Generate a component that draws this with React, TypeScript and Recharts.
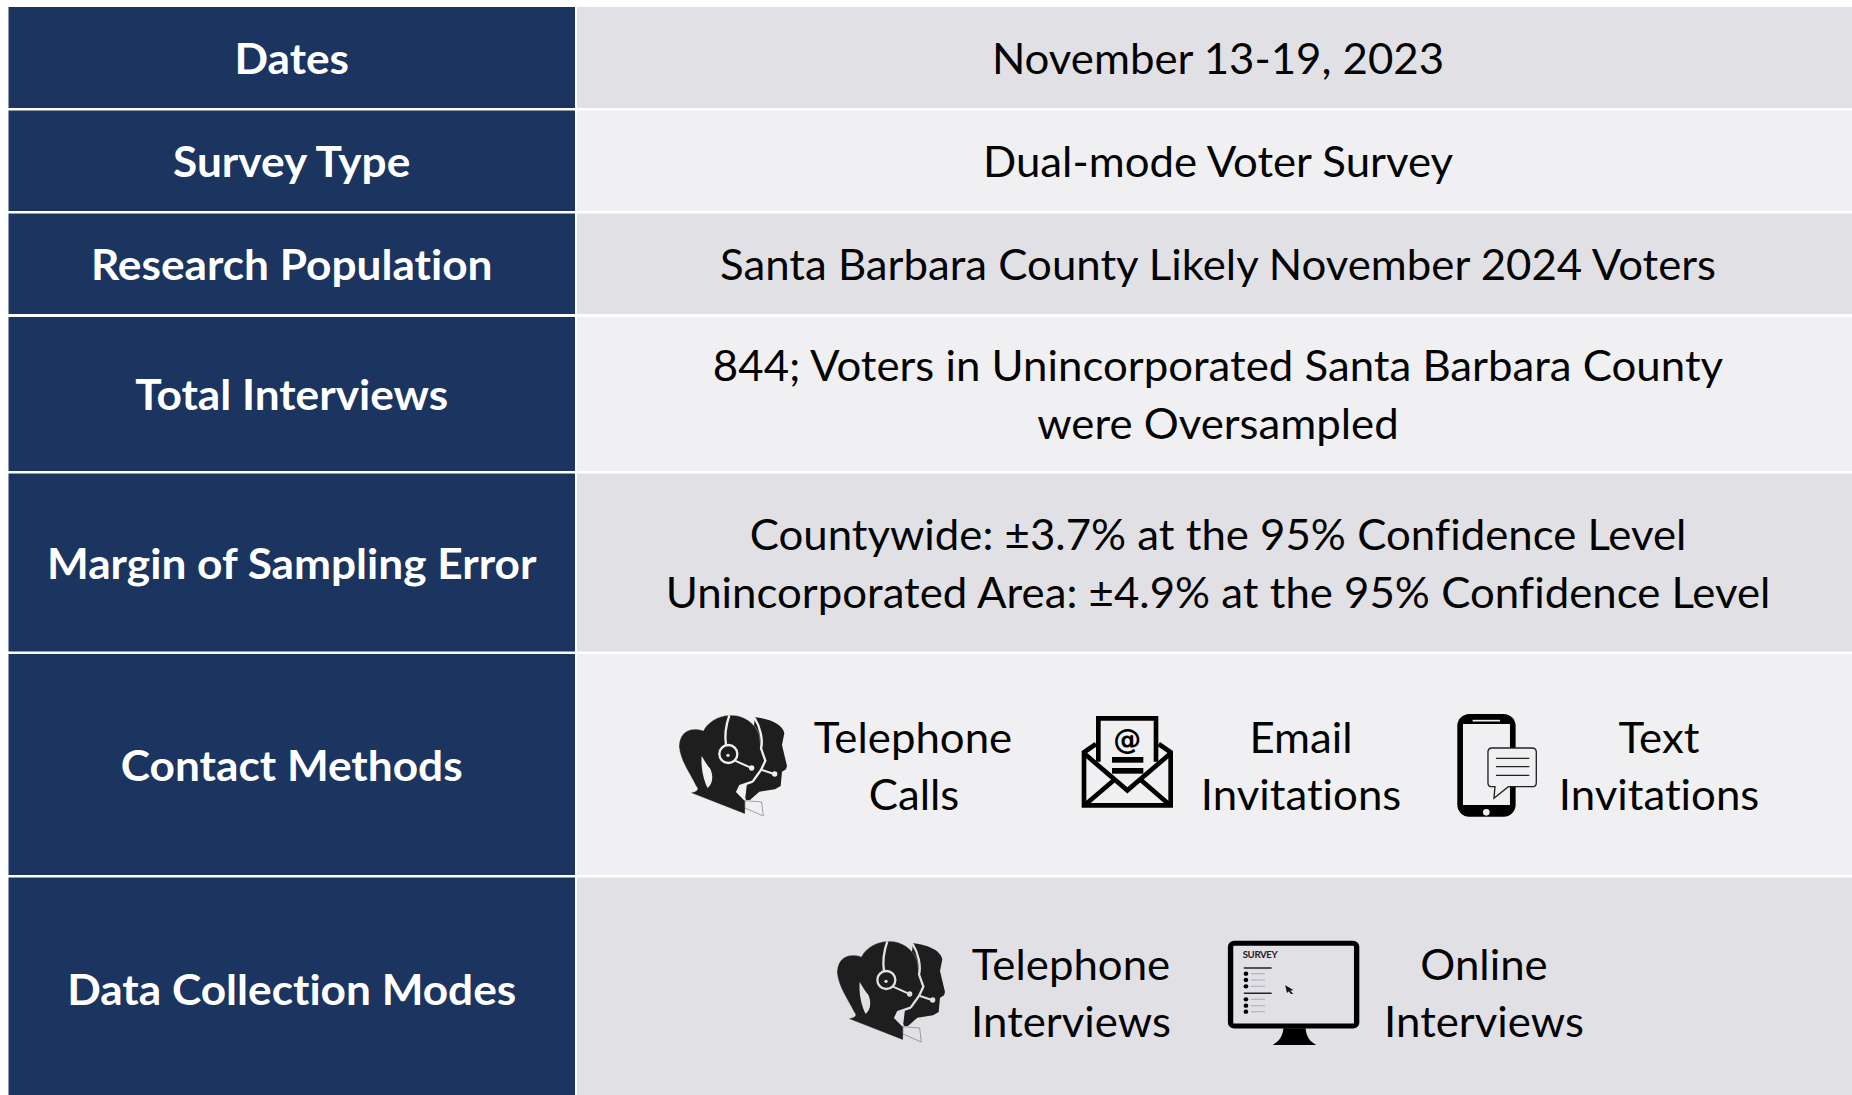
import React from 'react';
import { ComposedChart, XAxis, YAxis, ReferenceArea, ReferenceDot, Line } from 'recharts';

const rowLabels = ['Dates', 'Survey Type', 'Research Population', 'Total Interviews', 'Margin of Sampling Error', 'Contact Methods', 'Data Collection Modes'];
const rowTops = [7, 110.5, 213.5, 317, 473.5, 654, 877.5];
const rowBottoms = [108, 211, 314, 471, 651.5, 875, 1095];
const labelCentersY = [59, 162, 265, 395, 564, 766, 990];
const valueLines: [string, number][] = [
  ['November 13-19, 2023', 59],
  ['Dual-mode Voter Survey', 162],
  ['Santa Barbara County Likely November 2024 Voters', 265],
  ['844; Voters in Unincorporated Santa Barbara County', 366],
  ['were Oversampled', 424],
  ['Countywide: ±3.7% at the 95% Confidence Level', 535],
  ['Unincorporated Area: ±4.9% at the 95% Confidence Level', 593],
];
const methodLines: [string, number, number][] = [
  ['Telephone', 913, 738], ['Calls', 914, 795],
  ['Email', 1301, 738], ['Invitations', 1301, 795],
  ['Text', 1659, 738], ['Invitations', 1659, 795],
  ['Telephone', 1071, 965], ['Interviews', 1071, 1022],
  ['Online', 1484, 965], ['Interviews', 1484, 1022],
];

const W = 1852, H = 1095;
const NAVY = '#1b3560', LIGHT = '#f0f0f3', MID = '#e0e0e5';
const LABEL_X = 291.7, VALUE_X = 1218;
const FONT = 'Lato, sans-serif';
const frame = [{ x: 0, y: 0 }, { x: W, y: H }];

const textShape = (s: string, bold: boolean) => (p: any) => (
  <text transform={`translate(${p.cx},${p.cy}) scale(${bold ? 1.04 : 1.03},1)`} textAnchor="middle" dy="0.36em"
    fontFamily={FONT} fontSize={42.5} fontWeight={bold ? 700 : 400} fill={bold ? '#ffffff' : '#050505'}
    style={{ fontVariantLigatures: 'none' }}>{s}</text>
);

const headsetShape = (bg: string) => (p: any) => (
  <g transform={`translate(${p.cx},${p.cy}) scale(${1 / 3})`}>
    <path d="M285,82 C320,85 368,100 373,130 L366,165 L381,228 L378,238 L366,245 L362,288 L345,298 L298,305 L270,330 L255,330 Z" fill="#1e1e1e" />
    <path d="M92,308 C110,304 118,300 108,288 C90,250 62,215 57,170 C58,130 85,108 130,122 C145,95 175,78 205,76 C245,72 285,95 298,135 L303,175 L316,212 L303,240 L278,275 L240,288 L232,305 L256,330 L255,372 Z" fill="#1e1e1e" stroke={bg} strokeWidth={1} />
    <path d="M278,275 L240,288 L232,305 L256,330 M284,84 C300,110 310,150 303,175 L316,212 L303,240 L278,275" fill="none" stroke={bg} strokeWidth={7} />
    <path d="M208,76 C196,110 194,140 198,166" fill="none" stroke={bg} strokeWidth={7} />
    <path d="M125,198 C122,230 130,270 143,294 C160,280 160,255 150,235 C140,225 130,205 125,198 Z" fill={bg} />
    <circle cx={205} cy={192} r={27} fill="#1e1e1e" stroke={bg} strokeWidth={7} />
    <circle cx={204} cy={196} r={5} fill={bg} />
    <path d="M225,212 L272,233" stroke={bg} strokeWidth={6} />
    <circle cx={275} cy={234} r={8} fill={bg} />
    <path d="M306,240 L342,252" stroke={bg} strokeWidth={6} />
    <circle cx={344} cy={252} r={8} fill={bg} />
    <path d="M255,332 L305,336 L310,378 L255,354 Z" fill={bg} stroke="#777" strokeWidth={2} />
  </g>
);

const envelopeShape = (bg: string) => (p: any) => (
  <g transform={`translate(${p.cx},${p.cy}) scale(${1 / 3})`}>
    <path d="M115,215 L115,85 H288 V215" fill="none" stroke="#000" strokeWidth={14} />
    <path d="M108,162 L72,187 V346 H332 V187 L296,162" fill="none" stroke="#000" strokeWidth={14} strokeLinejoin="miter" />
    <path d="M72,190 L202,301 L332,190" fill="none" stroke="#000" strokeWidth={14} />
    <path d="M78,342 L165,268 M326,342 L240,268" fill="none" stroke="#000" strokeWidth={14} />
    <text x={202} y={176} textAnchor="middle" fontFamily="'DejaVu Sans', sans-serif" fontWeight={700} fontSize={84} fill="#000">@</text>
    <rect x={156} y={201} width={94} height={17} fill="#000" />
    <rect x={156} y={234} width={94} height={17} fill="#000" />
  </g>
);

const phoneShape = (bg: string) => (p: any) => (
  <g transform={`translate(${p.cx},${p.cy}) scale(${1 / 3})`}>
    <rect x={132} y={72} width={175} height={308} rx={36} fill="#000" />
    <rect x={149} y={102} width={141} height={243} fill={bg} />
    <path d="M178,92 H260" stroke={bg} strokeWidth={5} />
    <circle cx={219} cy={367} r={10} fill={bg} />
    <path d="M236,174 H356 Q369,174 369,186 V278 Q369,290 356,290 H285 L242,325 L245,290 H236 Q224,290 224,278 V186 Q224,174 236,174 Z" fill={bg} stroke="#222" strokeWidth={4} />
    <path d="M248,205 H348 M248,230 H348 M248,256 H348" stroke="#222" strokeWidth={3.5} />
  </g>
);

const monitorShape = (bg: string) => (p: any) => {
  const dots = [161, 180, 199, 238, 257, 275];
  return (
    <g transform={`translate(${p.cx},${p.cy}) scale(${1 / 2.8},${1 / 3})`}>
      <path d="M298,325 C296,350 285,365 268,375 H390 C372,365 362,350 360,325 Z" fill="#000" />
      <rect x={150} y={70} width={353} height={248} rx={10} fill={bg} stroke="#000" strokeWidth={15} />
      <text x={184} y={115} fontFamily={FONT} fontWeight={700} fontSize={27} fill="#222" textLength={98}>SURVEY</text>
      <path d="M187,144 H265 M187,220 H265" stroke="#222" strokeWidth={4.5} />
      {dots.map((y) => (
        <g key={y}>
          <circle cx={193} cy={y} r={6.5} fill="#000" />
          <path d={`M207,${y} H246`} stroke="#b5b8c6" strokeWidth={4} />
        </g>
      ))}
      <path d="M303,196 L326,210 L317,212 L326,222 L318,221 L313,214 L308,219 Z" fill="#111" />
    </g>
  );
};

const icons: [number, number, (bg: string) => (p: any) => React.ReactElement, string][] = [
  [660, 690, headsetShape, LIGHT],
  [1060, 690, envelopeShape, LIGHT],
  [1413.3, 690, phoneShape, LIGHT],
  [818, 916, headsetShape, MID],
  [1177, 920, monitorShape, MID],
];

export default function App() {
  return (
    <div style={{ position: 'absolute', left: 0, top: 0, width: W, height: H, background: '#fff' }}>
      <ComposedChart width={W} height={H} data={frame} margin={{ top: 0, right: 0, bottom: 0, left: 0 }}>
        <XAxis type="number" dataKey="x" domain={[0, W]} hide />
        <YAxis type="number" domain={[0, H]} reversed hide />
        <Line dataKey="y" stroke="none" dot={false} isAnimationActive={false} />
        {rowLabels.map((_, i) => (
          <ReferenceArea key={`n${i}`} x1={8.5} x2={575} y1={rowTops[i]} y2={rowBottoms[i]} fill={NAVY} fillOpacity={1} stroke="none" ifOverflow="visible" />
        ))}
        {rowLabels.map((_, i) => (
          <ReferenceArea key={`v${i}`} x1={577} x2={W} y1={rowTops[i]} y2={rowBottoms[i]} fill={i % 2 ? LIGHT : MID} fillOpacity={1} stroke="none" ifOverflow="visible" />
        ))}
        {rowLabels.map((s, i) => (
          <ReferenceDot key={`l${i}`} x={LABEL_X} y={labelCentersY[i]} ifOverflow="visible" shape={textShape(s, true)} />
        ))}
        {valueLines.map(([s, y], i) => (
          <ReferenceDot key={`t${i}`} x={VALUE_X} y={y} ifOverflow="visible" shape={textShape(s, false)} />
        ))}
        {methodLines.map(([s, x, y], i) => (
          <ReferenceDot key={`m${i}`} x={x} y={y} ifOverflow="visible" shape={textShape(s, false)} />
        ))}
        {icons.map(([x, y, shape, bg], i) => (
          <ReferenceDot key={`i${i}`} x={x} y={y} ifOverflow="visible" shape={shape(bg)} />
        ))}
      </ComposedChart>
    </div>
  );
}
